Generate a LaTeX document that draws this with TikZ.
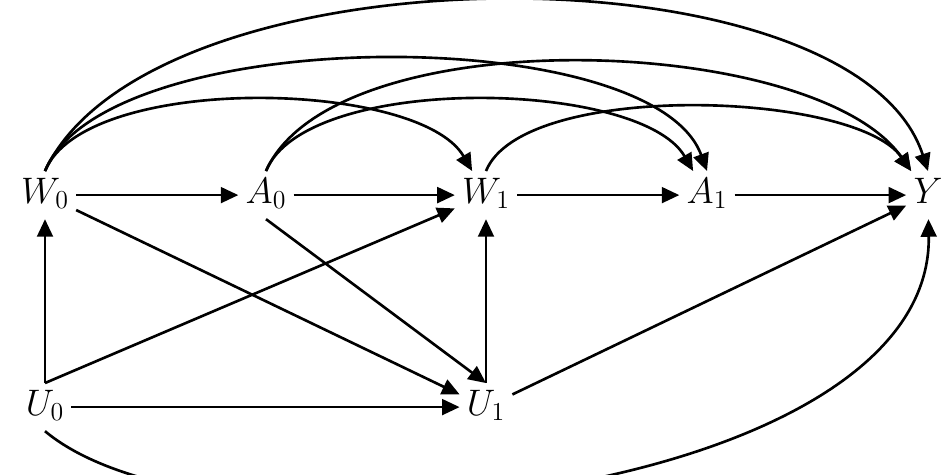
\RequirePackage{fix-cm}
\documentclass[tikz,border=0pt]{standalone}
\usepackage{mathtools}
\usetikzlibrary{arrows.meta}

\tikzset{
var/.style={anchor=base,inner xsep=4pt,inner ysep=4pt,text height=14pt,text depth=5pt,font=\fontsize{21}{25}\selectfont},
arr/.style={-{Triangle[length=10pt,width=9pt]},line width=1.5pt},
}

\begin{document}
\begin{tikzpicture}[x=0.02cm,y=-0.02cm]
\clip (0,0) rectangle (946,474);

\node[var] (W0) at (45,203) {$W_0$};
\node[var] (A0) at (266,203) {$A_0$};
\node[var] (W1) at (486,203) {$W_1$};
\node[var] (A1) at (707,203) {$A_1$};
\node[var] (Y) at (928,203) {$Y$};
\node[var] (U0) at (45,415) {$U_0$};
\node[var] (U1) at (486,415) {$U_1$};

%%%%%%%%%%   straight
\draw[arr] (W0) -- (A0);
\draw[arr] (A0) -- (W1);
\draw[arr] (W1) -- (A1);
\draw[arr] (A1) -- (Y);
\draw[arr] (U0) -- (U1);
\draw[arr] (U0) -- (W0);
\draw[arr] (U1) -- (W1);
\draw[arr] (U0.north) -- (W1);
\draw[arr] (W0) -- (U1);
\draw[arr] (A0.south) -- (U1.north);
\draw[arr] (U1) -- (Y);

%%%%%%%%%%   arcs
\draw[arr] (W0.north) to[out=68,in=120,distance=2.12cm] (W1);
\draw[arr] (W0.north) to[out=68,in=110,distance=3.2cm] (A1.north);
\draw[arr] (W0.north) to[out=65,in=108,out distance=5cm,in distance=4.8cm] (Y.north);
\draw[arr] (A0.north) to[out=68,in=120,distance=2.12cm] (A1);
\draw[arr] (A0.north) to[out=66,in=125,distance=3.36cm] (Y);
\draw[arr] (W1.north) to[out=68,in=125,distance=1.96cm] (Y);
\draw[arr] (U0.south) to[out=-40,in=-89,out distance=4.5cm,in distance=5.6cm] (Y);
\end{tikzpicture}
\end{document}
